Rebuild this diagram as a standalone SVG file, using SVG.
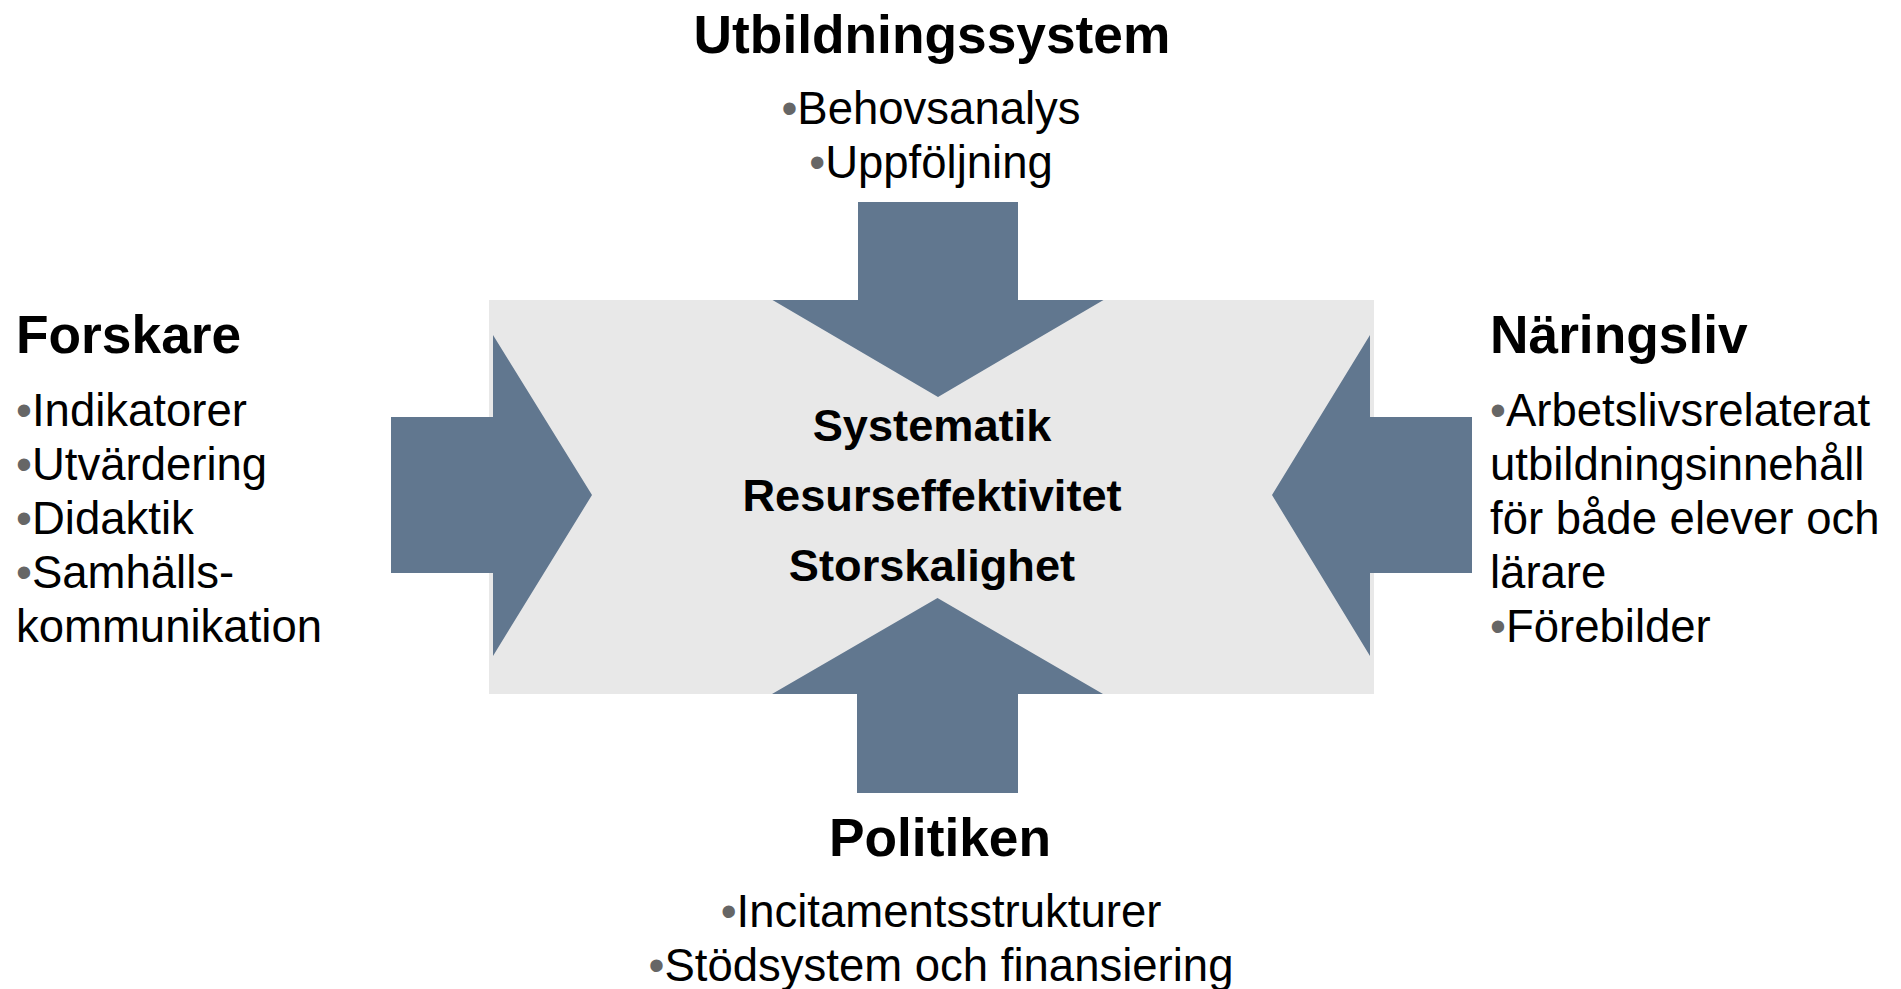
<svg xmlns="http://www.w3.org/2000/svg" width="1901" height="989" viewBox="0 0 1901 989">
  <style>
    .h { font-family: "Liberation Sans", Arial, sans-serif; font-weight: bold; font-size: 53.3px; fill: #000; }
    .c { font-family: "Liberation Sans", Arial, sans-serif; font-weight: bold; font-size: 45.2px; fill: #000; }
    .t { font-family: "Liberation Sans", Arial, sans-serif; font-size: 45.5px; fill: #000; }
    .b { fill: #666666; }
    .arrow { fill: #61778F; }
  </style>
  <rect width="1901" height="989" fill="#FFFFFF"/>

  <g id="center">
    <rect x="489" y="300" width="885" height="394" fill="#E8E8E8"/>
  </g>

  <g id="connectors">
    <polygon class="arrow" points="858,202 1018,202 1018,300 1103.5,300 938,397 772.5,300 858,300"/>
    <polygon class="arrow" points="937.5,598 1103,694 1018,694 1018,793 857,793 857,694 772,694"/>
    <polygon class="arrow" points="391,417 493,417 493,335 592,495 493,656 493,573 391,573"/>
    <polygon class="arrow" points="1272,495 1370,335 1370,417 1472,417 1472,573 1370,573 1370,656"/>
  </g>

  <g id="center-text">
    <text class="c" x="932" y="440.5" text-anchor="middle">Systematik</text>
    <text class="c" x="932" y="510.5" text-anchor="middle">Resurseffektivitet</text>
    <text class="c" x="932" y="580.5" text-anchor="middle">Storskalighet</text>
  </g>

  <g id="utbildningssystem">
    <text class="h" x="932" y="53" text-anchor="middle">Utbildningssystem</text>
    <text class="t" x="931" y="124" text-anchor="middle"><tspan class="b">•</tspan>Behovsanalys</text>
    <text class="t" x="931" y="178" text-anchor="middle"><tspan class="b">•</tspan>Uppföljning</text>
  </g>

  <g id="forskare">
    <text class="h" x="16" y="353">Forskare</text>
    <text class="t" x="16" y="426"><tspan class="b">•</tspan>Indikatorer</text>
    <text class="t" x="16" y="480"><tspan class="b">•</tspan>Utvärdering</text>
    <text class="t" x="16" y="534"><tspan class="b">•</tspan>Didaktik</text>
    <text class="t" x="16" y="588"><tspan class="b">•</tspan>Samhälls-</text>
    <text class="t" x="16" y="642">kommunikation</text>
  </g>

  <g id="naringsliv">
    <text class="h" x="1490" y="353">Näringsliv</text>
    <text class="t" x="1490" y="426"><tspan class="b">•</tspan>Arbetslivsrelaterat</text>
    <text class="t" x="1490" y="480">utbildningsinnehåll</text>
    <text class="t" x="1490" y="534">för både elever och</text>
    <text class="t" x="1490" y="588">lärare</text>
    <text class="t" x="1490" y="642"><tspan class="b">•</tspan>Förebilder</text>
  </g>

  <g id="politiken">
    <text class="h" x="940" y="856" text-anchor="middle">Politiken</text>
    <text class="t" x="941" y="927" text-anchor="middle"><tspan class="b">•</tspan>Incitamentsstrukturer</text>
    <text class="t" x="941" y="981" text-anchor="middle"><tspan class="b">•</tspan>Stödsystem och finansiering</text>
  </g>
</svg>
